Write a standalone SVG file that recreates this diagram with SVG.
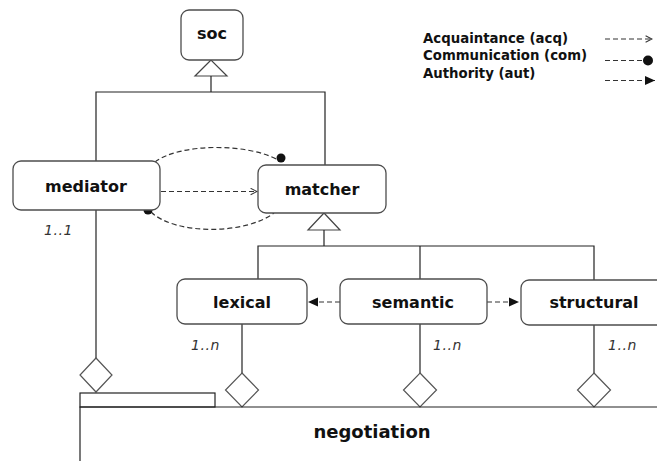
<svg xmlns="http://www.w3.org/2000/svg" width="657" height="461" viewBox="0 0 657 461">
  <style>
    .box { fill: #ffffff; stroke: #4d4d4d; stroke-width: 1.3; }
    .name { font-family: "DejaVu Sans", Verdana, sans-serif; font-weight: bold; font-size: 16px; fill: #111; text-anchor: middle; }
    .mult { font-family: "DejaVu Sans", Verdana, sans-serif; font-style: italic; font-size: 14px; fill: #333; letter-spacing: 0.6px; }
    .legend { font-family: "DejaVu Sans", Verdana, sans-serif; font-weight: bold; font-size: 13.3px; fill: #111; }
    .line { fill: none; stroke: #222; stroke-width: 1.2; }
    .dash { fill: none; stroke: #333; stroke-width: 1.2; stroke-dasharray: 5 3; }
    .gen { fill: #ffffff; stroke: #444; stroke-width: 1.2; }
    .agg { fill: #ffffff; stroke: #555; stroke-width: 1.2; }
  </style>
  <defs>
    <marker id="acq" viewBox="0 0 10 10" refX="9" refY="5" markerWidth="8" markerHeight="8" markerUnits="userSpaceOnUse" orient="auto">
      <path d="M1 1 L9 5 L1 9" fill="none" stroke="#333" stroke-width="1.3"/>
    </marker>
    <marker id="aut" viewBox="0 0 10 10" refX="10" refY="5" markerWidth="10" markerHeight="10" markerUnits="userSpaceOnUse" orient="auto">
      <path d="M0 0.5 L10 5 L0 9.5 Z" fill="#111"/>
    </marker>
  </defs>

  <!-- connectors -->
  <g id="connectors">
    <!-- soc generalisation -->
    <polygon class="gen" points="211,60 195,76 227,76"/>
    <polyline class="line" points="211,76 211,92"/>
    <polyline class="line" points="96,161 96,92 325,92 325,165"/>

    <!-- matcher generalisation -->
    <polygon class="gen" points="324,213 308,230 340,230"/>
    <polyline class="line" points="324,230 324,246"/>
    <polyline class="line" points="258,279 258,246 594,246 594,281"/>
    <line class="line" x1="420" y1="246" x2="420" y2="279"/>

    <!-- aggregations into negotiation -->
    <line class="line" x1="96" y1="210" x2="96" y2="358"/>
    <polygon class="agg" points="96,358 112,375 96,392 80,375"/>
    <line class="line" x1="242" y1="324" x2="242" y2="373"/>
    <polygon class="agg" points="242,373 258.5,390 242,407 225.5,390"/>
    <line class="line" x1="420" y1="324" x2="420" y2="373"/>
    <polygon class="agg" points="420,373 436.5,390 420,407 403.5,390"/>
    <line class="line" x1="594" y1="325" x2="594" y2="373"/>
    <polygon class="agg" points="594,373 610.5,390 594,407 577.5,390"/>

    <!-- mediator / matcher relations -->
    <path class="dash" d="M155 162 C180 143 248 143 278 160"/>
    <circle cx="281" cy="158" r="4.5" fill="#111"/>
    <path class="dash" d="M151 212 C175 235 245 235 274 213"/>
    <circle cx="148" cy="210" r="4.5" fill="#111"/>
    <line class="dash" x1="161" y1="191.5" x2="257" y2="191.5" marker-end="url(#acq)"/>

    <!-- semantic authority -->
    <line class="dash" x1="340" y1="302" x2="308" y2="302" marker-end="url(#aut)"/>
    <line class="dash" x1="487" y1="302" x2="519" y2="302" marker-end="url(#aut)"/>
  </g>

  <!-- nodes -->
  <g id="soc">
    <rect class="box" x="181" y="10" width="62" height="50" rx="8"/>
    <text class="name" x="212" y="39">soc</text>
  </g>
  <g id="mediator">
    <rect class="box" x="13" y="161" width="147" height="49" rx="8"/>
    <text class="name" x="86" y="192">mediator</text>
    <text class="mult" x="44" y="235">1..1</text>
  </g>
  <g id="matcher">
    <rect class="box" x="258" y="165" width="128" height="48" rx="8"/>
    <text class="name" x="322" y="195">matcher</text>
  </g>
  <g id="lexical">
    <rect class="box" x="177" y="279" width="130" height="45" rx="8"/>
    <text class="name" x="242" y="308">lexical</text>
    <text class="mult" x="191" y="350">1..n</text>
  </g>
  <g id="semantic">
    <rect class="box" x="340" y="279" width="147" height="45" rx="8"/>
    <text class="name" x="413" y="308">semantic</text>
    <text class="mult" x="433" y="350">1..n</text>
  </g>
  <g id="structural">
    <rect class="box" x="521" y="280" width="150" height="45" rx="8"/>
    <text class="name" x="594" y="308">structural</text>
    <text class="mult" x="608" y="350">1..n</text>
  </g>
  <g id="negotiation">
    <rect fill="#ffffff" stroke="#222" stroke-width="1.2" x="80" y="393" width="135" height="14"/>
    <polyline class="line" points="80,461 80,407 657,407"/>
    <text class="name" x="372" y="438" style="font-size:18px">negotiation</text>
  </g>

  <!-- legend -->
  <g id="legend">
    <text class="legend" x="423" y="43">Acquaintance (acq)</text>
    <text class="legend" x="423" y="60">Communication (com)</text>
    <text class="legend" x="423" y="78">Authority (aut)</text>
    <line class="dash" x1="605" y1="39" x2="652" y2="39" marker-end="url(#acq)"/>
    <line class="dash" x1="605" y1="60.5" x2="644" y2="60.5"/>
    <circle cx="648" cy="60.5" r="5" fill="#111"/>
    <line class="dash" x1="605" y1="80.5" x2="655" y2="80.5" marker-end="url(#aut)"/>
  </g>
</svg>
